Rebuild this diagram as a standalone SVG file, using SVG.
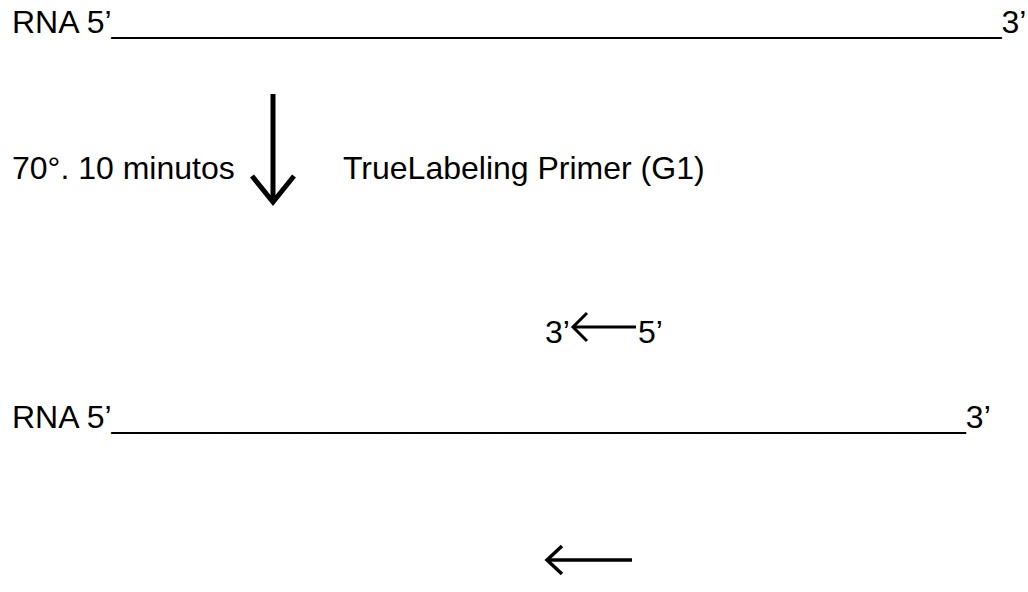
<svg xmlns="http://www.w3.org/2000/svg" width="1028" height="592" viewBox="0 0 1028 592">
  <style>
    .t { font-family: "Liberation Sans", Arial, sans-serif; font-size: 32px; fill: #000; }
    .arrow { fill: none; stroke: #000; stroke-linecap: butt; stroke-linejoin: miter; }
  </style>
  <rect width="1028" height="592" fill="#fff"/>

  <!-- RNA strand, first step -->
  <g id="rna-top">
    <text class="t" x="12" y="33">RNA 5’__________________________________________________3’</text>
  </g>

  <!-- denaturation conditions and primer -->
  <g id="step-label">
    <text class="t" x="12" y="179">70°. 10 minutos</text>
  </g>
  <g id="primer-label">
    <text class="t" x="343" y="179">TrueLabeling Primer (G1)</text>
  </g>

  <!-- primer, oriented 5' to 3' -->
  <g id="primer">
    <text class="t" x="545" y="343">3’</text>
    <text class="t" x="638" y="343">5’</text>
  </g>

  <!-- RNA strand after annealing -->
  <g id="rna-annealed">
    <text class="t" x="12" y="428">RNA 5’________________________________________________3’</text>
  </g>

  <g id="connectors">
    <!-- heating step -->
    <path class="arrow" stroke-width="5" d="M273,94 V202"/>
    <path class="arrow" stroke-width="5" d="M252,176 L273,202 L294,176"/>
    <!-- primer direction -->
    <path class="arrow" stroke-width="3" d="M574,327 H636"/>
    <path class="arrow" stroke-width="3" d="M587,313 L573,327 L587,341"/>
    <!-- extension direction -->
    <path class="arrow" stroke-width="3.5" d="M547,560 H632"/>
    <path class="arrow" stroke-width="3.5" d="M562,546 L547,560 L562,574"/>
  </g>
</svg>
